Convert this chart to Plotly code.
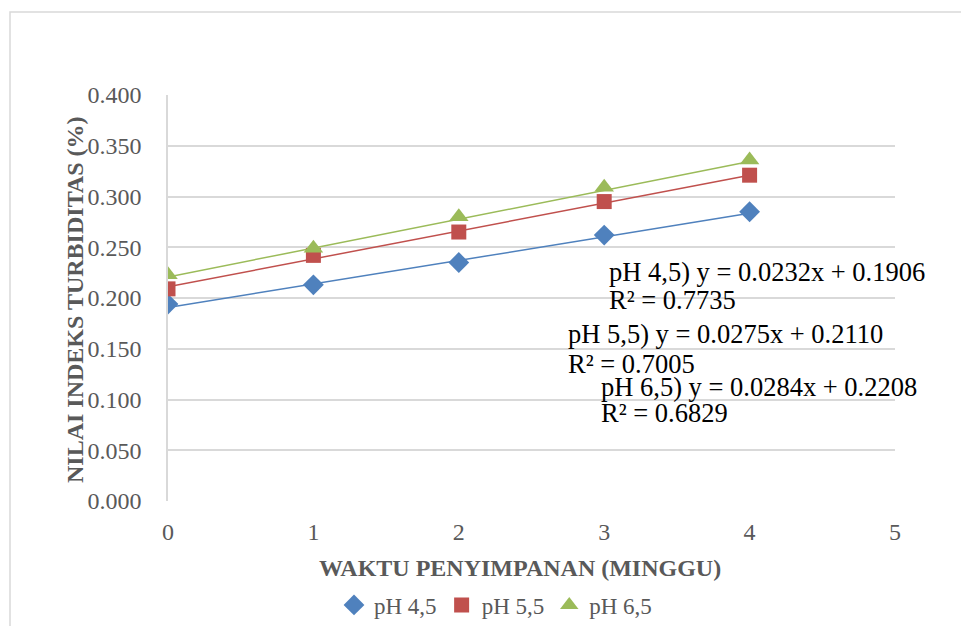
import plotly.graph_objects as go
import numpy as np

# ---- data ----
weeks = [0, 1, 2, 3, 4]
series_names = ["pH 4,5", "pH 5,5", "pH 6,5"]
ph45 = [0.194, 0.213, 0.235, 0.262, 0.285]
ph55 = [0.209, 0.242, 0.265, 0.295, 0.321]
ph65 = [0.223, 0.249, 0.280, 0.309, 0.336]
slopes = [0.0232, 0.0275, 0.0284]
intercepts = [0.1906, 0.2110, 0.2208]
equation_lines = [
    "pH 4,5) y = 0.0232x + 0.1906", "R² = 0.7735",
    "pH 5,5) y = 0.0275x + 0.2110", "R² = 0.7005",
    "pH 6,5) y = 0.0284x + 0.2208", "R² = 0.6829",
]
y_ticks = [0.0, 0.05, 0.1, 0.15, 0.2, 0.25, 0.3, 0.35, 0.4]
x_ticks = [0, 1, 2, 3, 4, 5]
x_title = "WAKTU PENYIMPANAN (MINGGU)"
y_title = "NILAI INDEKS TURBIDITAS (%)"

colors = ["#4F81BD", "#C0504D", "#9BBB59"]
symbols = ["diamond", "square", "triangle-up"]
msizes = [16, 15, 17]

OFF = 8  # page body margin
W, H = 961, 618
# plot area in page pixels: x 168..895, y 95..501
L, T = 168 - OFF, 95 - OFF
R = W - (895 - OFF)
B = H - (501 - OFF)
pw, ph = W - L - R, H - T - B


def px(x):  # page pixel -> paper
    return (x - OFF - L) / pw


def py(y):
    return (H - B - (y - OFF)) / ph


FONT = "Liberation Serif, Times New Roman, serif"
GRAY = "#595959"

fig = go.Figure()

# trendlines
x_fit = np.array([min(weeks), max(weeks)], dtype=float)
for i in range(3):
    fig.add_trace(go.Scatter(
        x=x_fit, y=slopes[i] * x_fit + intercepts[i], mode="lines",
        line=dict(color=colors[i], width=1.5), showlegend=False, hoverinfo="skip"))

# markers
for i, vals in enumerate([ph45, ph55, ph65]):
    fig.add_trace(go.Scatter(
        x=weeks, y=vals, mode="markers", name=series_names[i],
        marker=dict(symbol=symbols[i], size=msizes[i], color=colors[i],
                    line=dict(width=0))))

annotations = []
eq_pos = [(607, 272), (607, 300), (566, 334), (566, 364), (599, 387), (599, 413)]
for txt, (ex, ey) in zip(equation_lines, eq_pos):
    annotations.append(dict(text=txt, x=px(ex), y=py(ey), xref="paper", yref="paper",
                            xanchor="left", yanchor="middle", showarrow=False,
                            font=dict(family=FONT, size=26.5, color="black")))
annotations.append(dict(text="<b>" + y_title + "</b>", x=px(75), y=py(300), xref="paper",
                        yref="paper", textangle=-90, showarrow=False,
                        xanchor="center", yanchor="middle",
                        font=dict(family=FONT, size=24, color=GRAY)))
annotations.append(dict(text="<b>" + x_title + "</b>", x=px(520), y=py(568), xref="paper",
                        yref="paper", showarrow=False, xanchor="center", yanchor="middle",
                        font=dict(family=FONT, size=24, color=GRAY)))

shapes = [dict(type="rect", xref="paper", yref="paper",
               x0=px(10), y0=py(660), x1=px(1000), y1=py(12),
               line=dict(color="#d9d9d9", width=1.5), fillcolor="rgba(0,0,0,0)")]

fig.update_layout(
    width=W, height=H,
    margin=dict(l=L, r=R, t=T, b=B, autoexpand=False),
    paper_bgcolor="white", plot_bgcolor="white",
    font=dict(family=FONT, color=GRAY, size=24),
    annotations=annotations, shapes=shapes,
    legend=dict(orientation="h", x=px(334), y=py(605), xanchor="left", yanchor="middle",
                font=dict(family=FONT, size=23, color=GRAY), itemwidth=30,
                bgcolor="rgba(0,0,0,0)", tracegroupgap=0),
    showlegend=True,
)
fig.update_xaxes(range=[0, 5], tickvals=x_ticks, showgrid=False, zeroline=False,
                 showline=False, ticks="", ticklabelstandoff=14,
                 tickfont=dict(family=FONT, size=24, color=GRAY))
fig.update_yaxes(range=[0, 0.4], tickvals=y_ticks, tickformat=".3f", showgrid=True,
                 gridcolor="#d9d9d9", gridwidth=1.5, zeroline=False,
                 showline=True, linecolor="#d9d9d9", linewidth=1.5, ticks="",
                 ticklabelstandoff=20,
                 tickfont=dict(family=FONT, size=24, color=GRAY))

fig.write_html("out.html")
